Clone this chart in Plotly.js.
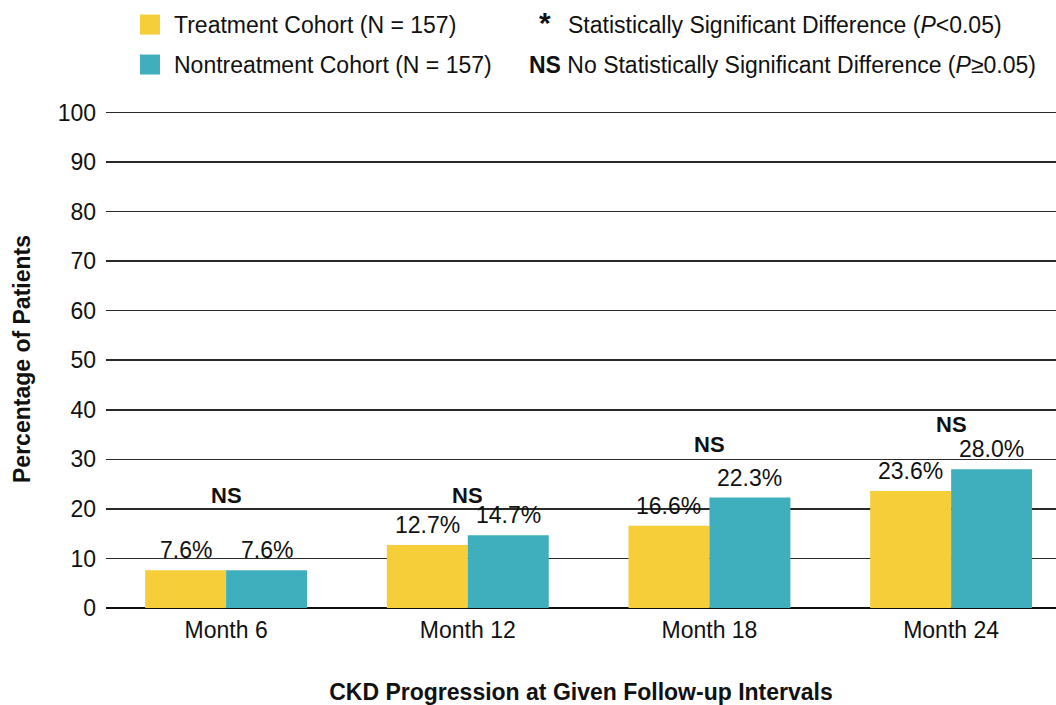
<!DOCTYPE html>
<html>
<head>
<meta charset="utf-8">
<script src="https://cdn.plot.ly/plotly-3.0.1.min.js"></script>
<style>html,body{margin:0;padding:0;background:#fff;}#chart{width:1056px;height:705px;}</style>
</head>
<body>
<div id="chart"></div>
<script>
const categories = ["Month 6", "Month 12", "Month 18", "Month 24"];
const treatment = [7.6, 12.7, 16.6, 23.6];
const nontreatment = [7.6, 14.7, 22.3, 28.0];
const significance = ["NS", "NS", "NS", "NS"];
const sigLabelY = [22.8, 22.8, 32.9, 37.1];
const yTicks = [0, 10, 20, 30, 40, 50, 60, 70, 80, 90, 100];
const seriesNames = ["Treatment Cohort (N = 157)", "Nontreatment Cohort (N = 157)"];

const FONT = "Arial, 'Liberation Sans', Helvetica, sans-serif";
const YELLOW = "#F5CE3A";
const TEAL = "#3FAFBD";
const bargap = 0.33;
const half = (1 - bargap) / 4;
const yMax = 100.5;

const traces = [
  {type: "bar", name: seriesNames[0], x: categories, y: treatment, marker: {color: YELLOW}, hoverinfo: "y"},
  {type: "bar", name: seriesNames[1], x: categories, y: nontreatment, marker: {color: TEAL}, hoverinfo: "y"}
];

const annotations = [];
categories.forEach((c, i) => {
  annotations.push({x: i - half, y: treatment[i], xref: "x", yref: "y", text: treatment[i].toFixed(1) + "%",
    showarrow: false, yanchor: "bottom", yshift: 5, font: {family: FONT, size: 23, color: "#111"}});
  annotations.push({x: i + half, y: nontreatment[i], xref: "x", yref: "y", text: nontreatment[i].toFixed(1) + "%",
    showarrow: false, yanchor: "bottom", yshift: 5, font: {family: FONT, size: 23, color: "#111"}});
  annotations.push({x: i, y: sigLabelY[i], xref: "x", yref: "y", text: "<b>" + significance[i] + "</b>",
    showarrow: false, yanchor: "middle", font: {family: FONT, size: 22, color: "#111"}});
});

// custom legend
const plotTop = 112, plotBottom = 608;
const px = p => (p - 106) / 950;
const py = p => (plotBottom - p) / ((plotBottom - plotTop) * yMax / 100);
annotations.push({xref: "paper", yref: "paper", x: px(172), y: py(24), xanchor: "left", yanchor: "middle", showarrow: false,
  text: seriesNames[0], font: {family: FONT, size: 23, color: "#111"}});
annotations.push({xref: "paper", yref: "paper", x: px(172), y: py(64), xanchor: "left", yanchor: "middle", showarrow: false,
  text: seriesNames[1], font: {family: FONT, size: 23, color: "#111"}});
annotations.push({xref: "paper", yref: "paper", x: px(545), y: py(22), xanchor: "center", yanchor: "middle", showarrow: false,
  text: "<b>*</b>", font: {family: FONT, size: 30, color: "#111"}});
annotations.push({xref: "paper", yref: "paper", x: px(566), y: py(24), xanchor: "left", yanchor: "middle", showarrow: false,
  text: "Statistically Significant Difference (<i>P</i>&lt;0.05)", font: {family: FONT, size: 23, color: "#111"}});
annotations.push({xref: "paper", yref: "paper", x: px(527), y: py(64), xanchor: "left", yanchor: "middle", showarrow: false,
  text: "<b>NS</b> No Statistically Significant Difference (<i>P</i>≥0.05)", font: {family: FONT, size: 23, color: "#111"}});

const shapes = [
  {type: "rect", xref: "paper", yref: "paper", x0: px(140), x1: px(160), y0: py(34), y1: py(14), fillcolor: YELLOW, line: {width: 0}},
  {type: "rect", xref: "paper", yref: "paper", x0: px(140), x1: px(160), y0: py(74), y1: py(54), fillcolor: TEAL, line: {width: 0}}
];

const layout = {
  width: 1056, height: 705,
  margin: {l: 106, r: 0, t: plotBottom - (plotBottom - plotTop) * yMax / 100, b: 705 - plotBottom, pad: 0},
  paper_bgcolor: "#fff", plot_bgcolor: "#fff",
  barmode: "group", bargap: bargap, bargroupgap: 0,
  showlegend: false,
  font: {family: FONT, size: 23, color: "#111"},
  xaxis: {
    type: "category", range: [-0.497, 3.434], showgrid: false, zeroline: false, showline: false,
    ticks: "", ticklabelstandoff: 6, tickfont: {family: FONT, size: 23, color: "#111"},
    title: {text: "<b>CKD Progression at Given Follow-up Intervals</b>", font: {family: FONT, size: 23, color: "#111"}, standoff: 44},
    fixedrange: true
  },
  yaxis: {
    range: [0, yMax], tickvals: yTicks, ticktext: yTicks.map(String),
    showgrid: true, gridcolor: "#2a2a2a", gridwidth: 1.5,
    zeroline: true, zerolinecolor: "#111", zerolinewidth: 2.5,
    showline: false, ticks: "", ticklabelstandoff: 9,
    tickfont: {family: FONT, size: 23, color: "#111"},
    title: {text: "<b>Percentage of Patients</b>", font: {family: FONT, size: 23, color: "#111"}, standoff: 20},
    fixedrange: true
  },
  annotations: annotations,
  shapes: shapes
};

Plotly.newPlot("chart", traces, layout, {displayModeBar: false, staticPlot: true});
</script>
</body>
</html>
